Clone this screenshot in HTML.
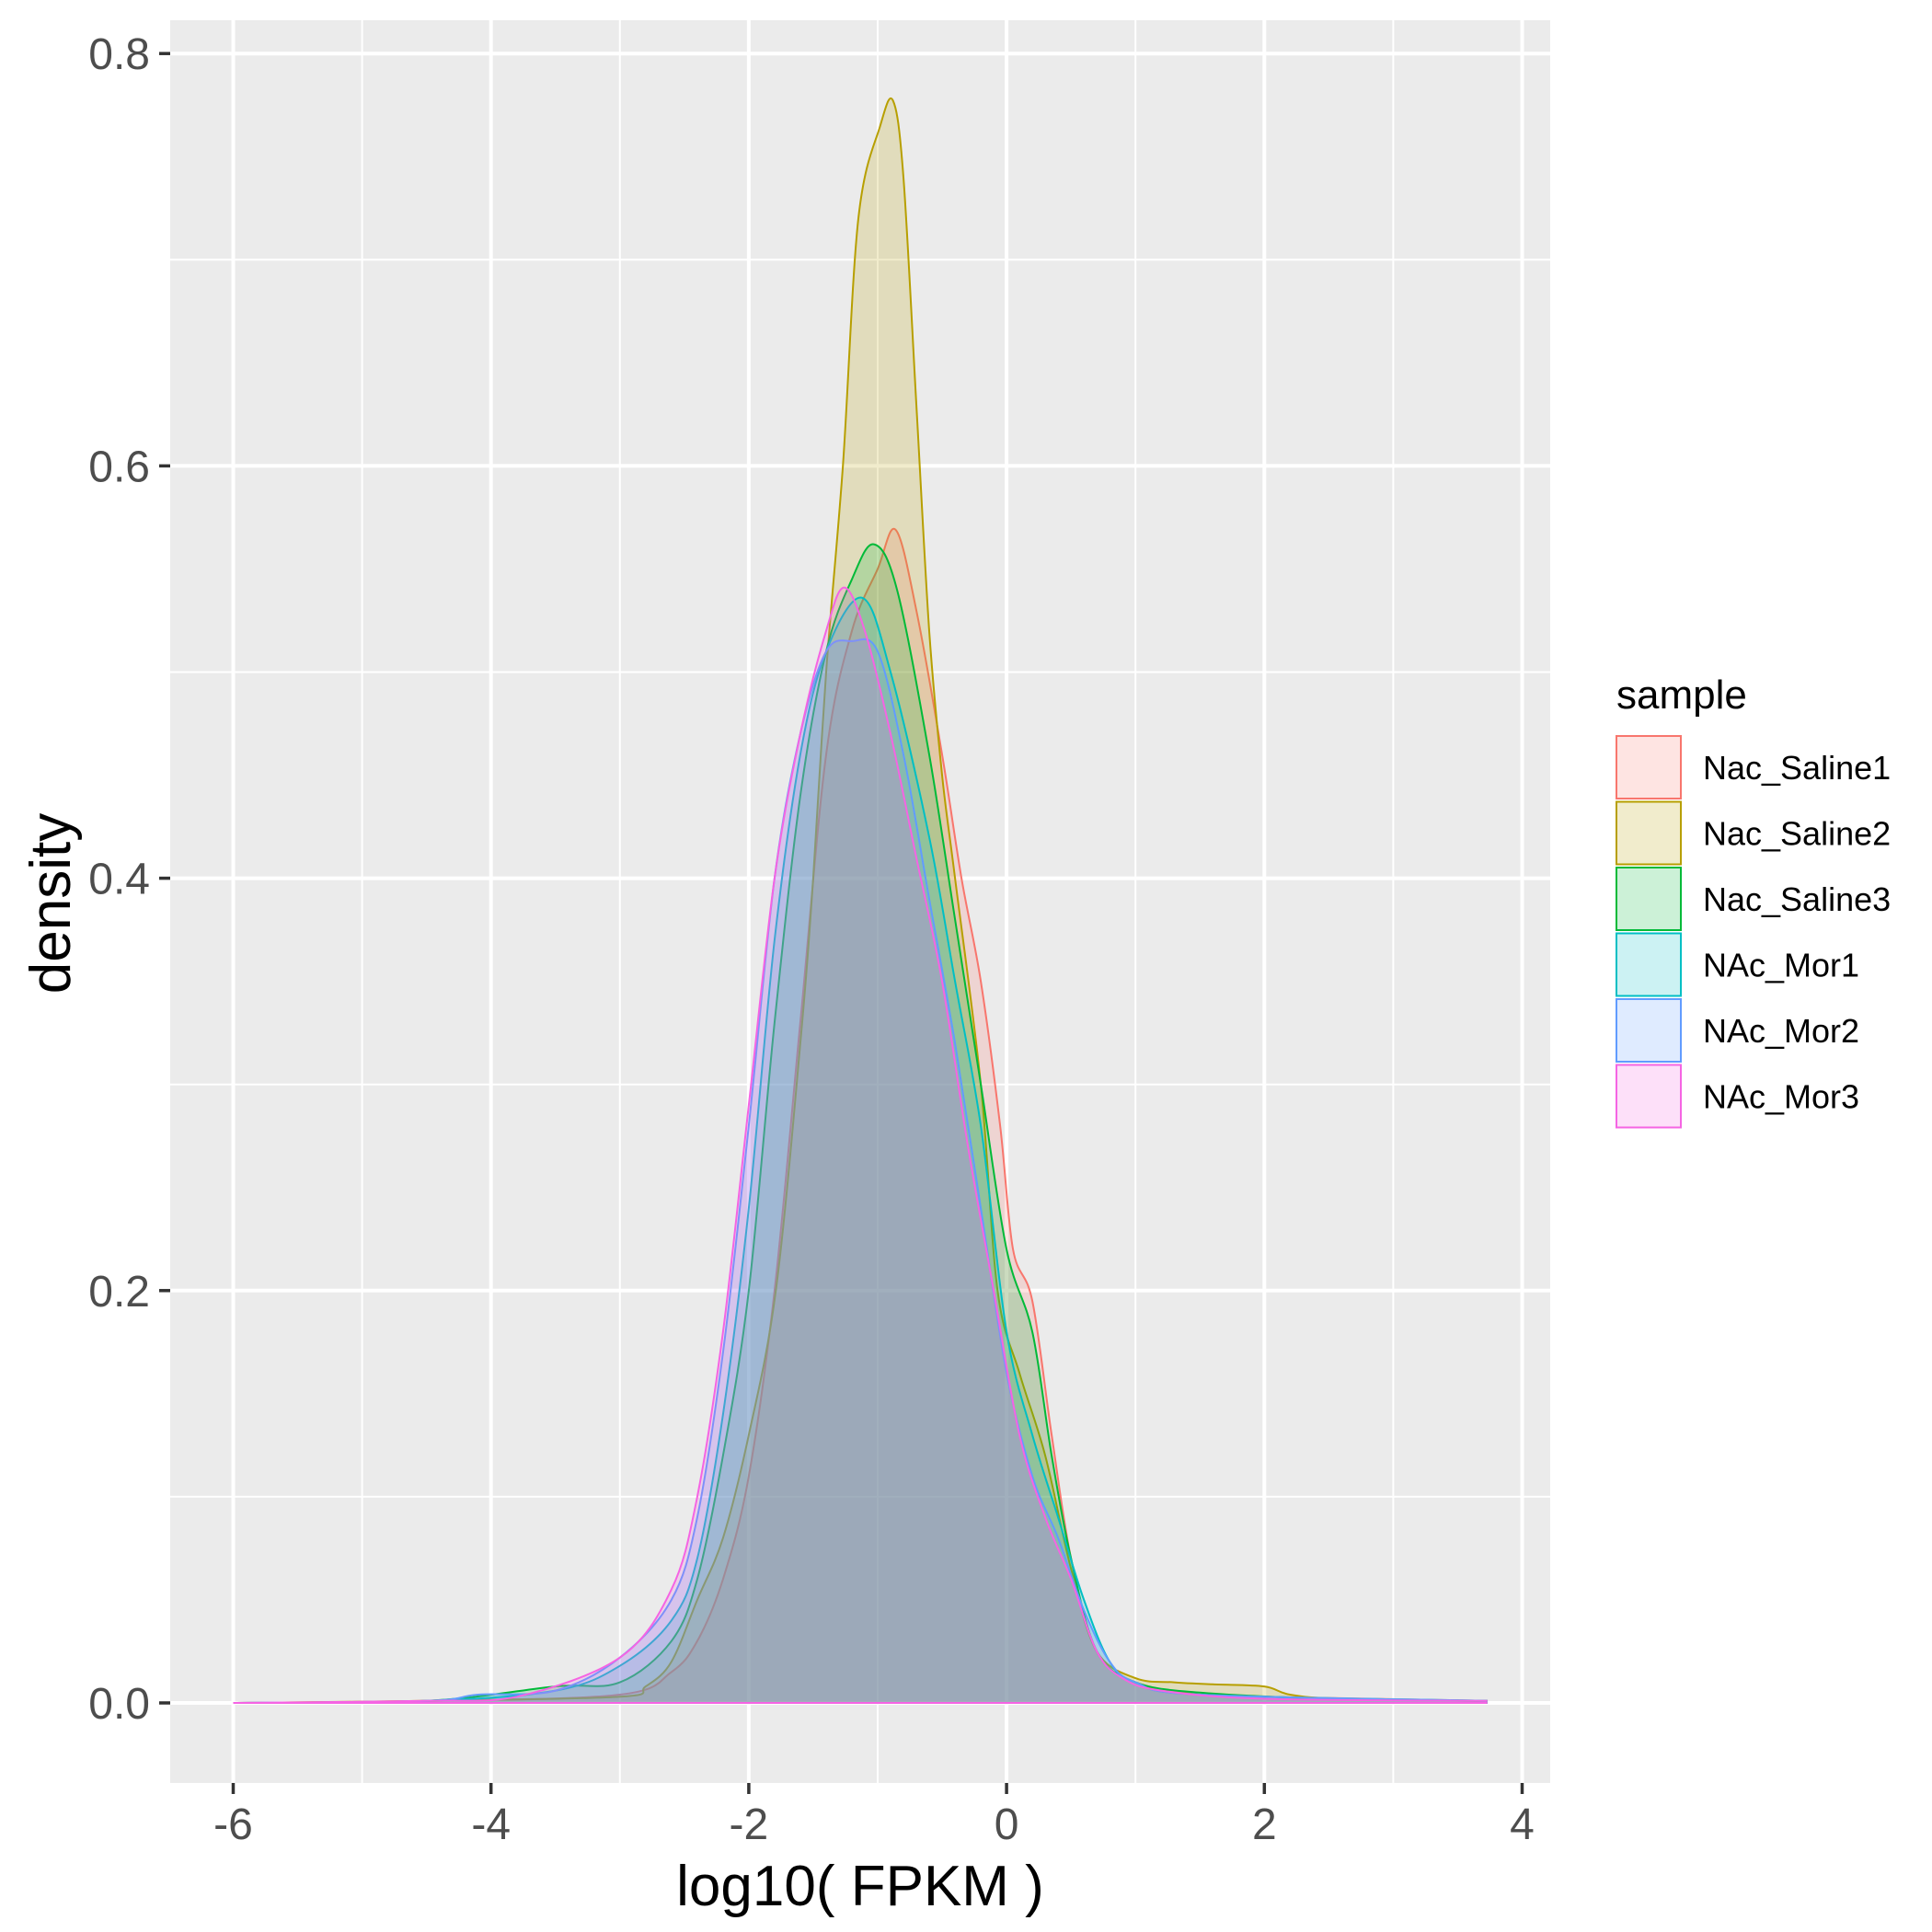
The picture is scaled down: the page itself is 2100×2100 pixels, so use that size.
<!DOCTYPE html>
<html><head><meta charset="utf-8"><style>
html,body{margin:0;padding:0;background:#fff}
svg{display:block}
text{font-family:"Liberation Sans",sans-serif}
</style></head><body>
<svg id="s" width="2100" height="2100" viewBox="0 0 2100 2100" xmlns="http://www.w3.org/2000/svg">
<rect x="0" y="0" width="2100" height="2100" fill="#fff"/>
<rect x="185" y="22" width="1500" height="1916" fill="#EBEBEB"/>
<g id="grid"></g>
<g id="curves"></g>
<g id="axes"></g>
<text x="76" y="982" font-size="62" text-anchor="middle" transform="rotate(-90 76 982)" fill="#000">density</text>
<text x="935" y="2071" font-size="62" text-anchor="middle" fill="#000">log10( FPKM )</text>
<text x="1757" y="770" font-size="44" fill="#000">sample</text>
<g id="legend"></g>
</svg>
<script>
var NS="http://www.w3.org/2000/svg";
function X(v){return 253.5+140.1*(v+6);}
function Y(d){return 1851-2241*d;}
function el(t,a,p){var e=document.createElementNS(NS,t);for(var k in a)e.setAttribute(k,a[k]);p.appendChild(e);return e;}
var g=document.getElementById('grid'),ax=document.getElementById('axes');
for(var v=-5;v<=3;v+=2)el('line',{x1:X(v),x2:X(v),y1:22,y2:1938,stroke:'#fff','stroke-width':2},g);
[0.1,0.3,0.5,0.7].forEach(function(d){el('line',{x1:185,x2:1685,y1:Y(d),y2:Y(d),stroke:'#fff','stroke-width':2},g);});
for(var v=-6;v<=4;v+=2){el('line',{x1:X(v),x2:X(v),y1:22,y2:1938,stroke:'#fff','stroke-width':4},g);
 el('line',{x1:X(v),x2:X(v),y1:1938,y2:1950,stroke:'#333','stroke-width':3.5},ax);
 var t=el('text',{x:X(v),y:1999,'font-size':48,'text-anchor':'middle',fill:'#4D4D4D'},ax);t.textContent=v;}
[0,0.2,0.4,0.6,0.8].forEach(function(d){el('line',{x1:185,x2:1685,y1:Y(d),y2:Y(d),stroke:'#fff','stroke-width':4},g);
 el('line',{x1:173,x2:185,y1:Y(d),y2:Y(d),stroke:'#333','stroke-width':3.5},ax);
 var t=el('text',{x:163,y:Y(d)+17,'font-size':48,'text-anchor':'end',fill:'#4D4D4D'},ax);t.textContent=d.toFixed(1);});
var S=[
["Nac_Saline1","#F8766D",[[-6,0],[-4.5,0.001],[-3,0.004],[-2.6,0.015],[-2.4,0.03],[-2.2,0.06],[-2,0.11],[-1.8,0.2],[-1.6,0.33],[-1.4,0.46],[-1.2,0.52],[-1.0,0.55],[-0.86,0.569],[-0.7,0.53],[-0.5,0.46],[-0.35,0.4],[-0.2,0.35],[-0.05,0.28],[0.05,0.22],[0.2,0.195],[0.35,0.13],[0.5,0.07],[0.7,0.025],[1,0.01],[1.5,0.004],[2,0.003],[3.73,0.001]]],
["Nac_Saline2","#B79F00",[[-6,0],[-4.5,0.001],[-3,0.003],[-2.8,0.008],[-2.6,0.02],[-2.4,0.05],[-2.2,0.08],[-2.0,0.13],[-1.79,0.2],[-1.6,0.32],[-1.5,0.4],[-1.4,0.5],[-1.27,0.6],[-1.15,0.72],[-0.98,0.765],[-0.88,0.777],[-0.8,0.74],[-0.7,0.63],[-0.6,0.52],[-0.5,0.45],[-0.4,0.4],[-0.2,0.3],[-0.07,0.2],[0.1,0.16],[0.3,0.12],[0.5,0.065],[0.7,0.025],[1,0.012],[1.3,0.01],[1.6,0.009],[2,0.008],[2.2,0.004],[2.6,0.002],[3.73,0.001]]],
["Nac_Saline3","#00BA38",[[-6,0],[-4.5,0.001],[-3.5,0.008],[-3,0.01],[-2.6,0.03],[-2.4,0.06],[-2.2,0.12],[-2,0.2],[-1.8,0.33],[-1.6,0.44],[-1.4,0.51],[-1.2,0.545],[-1.03,0.562],[-0.85,0.54],[-0.6,0.46],[-0.4,0.38],[-0.2,0.3],[0,0.22],[0.2,0.18],[0.35,0.12],[0.5,0.07],[0.7,0.025],[1,0.01],[1.5,0.005],[2.5,0.002],[3.73,0.001]]],
["NAc_Mor1","#00BFC4",[[-6,0],[-4.5,0.001],[-3.5,0.006],[-3,0.018],[-2.6,0.04],[-2.4,0.07],[-2.2,0.14],[-2,0.24],[-1.8,0.37],[-1.6,0.46],[-1.4,0.51],[-1.12,0.536],[-0.9,0.5],[-0.6,0.42],[-0.4,0.35],[-0.2,0.28],[0,0.18],[0.2,0.13],[0.4,0.09],[0.6,0.05],[0.8,0.02],[1,0.01],[1.5,0.004],[3.73,0.001]]],
["NAc_Mor2","#619CFF",[[-6,0],[-4.5,0.001],[-4.1,0.004],[-3.5,0.006],[-3,0.022],[-2.6,0.05],[-2.4,0.09],[-2.2,0.17],[-2,0.28],[-1.8,0.4],[-1.6,0.47],[-1.4,0.51],[-1.2,0.515],[-1.0,0.51],[-0.8,0.46],[-0.6,0.39],[-0.4,0.32],[-0.2,0.24],[0,0.16],[0.2,0.11],[0.4,0.08],[0.6,0.045],[0.8,0.02],[1,0.01],[1.5,0.004],[3.73,0.001]]],
["NAc_Mor3","#F564E3",[[-6,0],[-4.5,0.001],[-3.8,0.003],[-3,0.022],[-2.6,0.055],[-2.4,0.1],[-2.2,0.18],[-2,0.29],[-1.8,0.4],[-1.6,0.47],[-1.4,0.52],[-1.26,0.541],[-1.1,0.52],[-0.9,0.47],[-0.7,0.41],[-0.5,0.35],[-0.3,0.27],[-0.1,0.2],[0.1,0.13],[0.3,0.09],[0.5,0.06],[0.7,0.025],[0.9,0.012],[1.2,0.006],[2,0.002],[3.73,0.001]]]
];
function path(pts){var p=pts.map(function(a){return [X(a[0]),Y(a[1])];});
 var d="M"+p[0][0]+","+p[0][1];
 for(var i=0;i<p.length-1;i++){var p0=p[i-1]||p[i],p1=p[i],p2=p[i+1],p3=p[i+2]||p2;
  var c1x=p1[0]+(p2[0]-p0[0])/6,c1y=p1[1]+(p2[1]-p0[1])/6,c2x=p2[0]-(p3[0]-p1[0])/6,c2y=p2[1]-(p3[1]-p1[1])/6;
  c1y=Math.min(c1y,1851);c2y=Math.min(c2y,1851);
  d+=" C"+c1x.toFixed(1)+","+c1y.toFixed(1)+" "+c2x.toFixed(1)+","+c2y.toFixed(1)+" "+p2[0].toFixed(1)+","+p2[1].toFixed(1);}
 return d;}
var cg=document.getElementById('curves'),lg=document.getElementById('legend');
S.forEach(function(s,i){var d=path(s[2]);
 el('path',{d:d+" L"+X(3.73)+",1851 L"+X(-6)+",1851 Z",fill:s[1],'fill-opacity':0.2,stroke:'none'},cg);
 el('path',{d:d,fill:'none',stroke:s[1],'stroke-width':2},cg);
 el('line',{x1:X(-6),x2:X(3.73),y1:1851,y2:1851,stroke:s[1],'stroke-width':2},cg);
 var y=800+i*71.5;
 el('rect',{x:1757,y:y,width:70,height:68,fill:s[1],'fill-opacity':0.2,stroke:s[1],'stroke-width':2},lg);
 var t=el('text',{x:1851,y:y+47,'font-size':36,fill:'#000'},lg);t.textContent=s[0];});
</script>
</body></html>
